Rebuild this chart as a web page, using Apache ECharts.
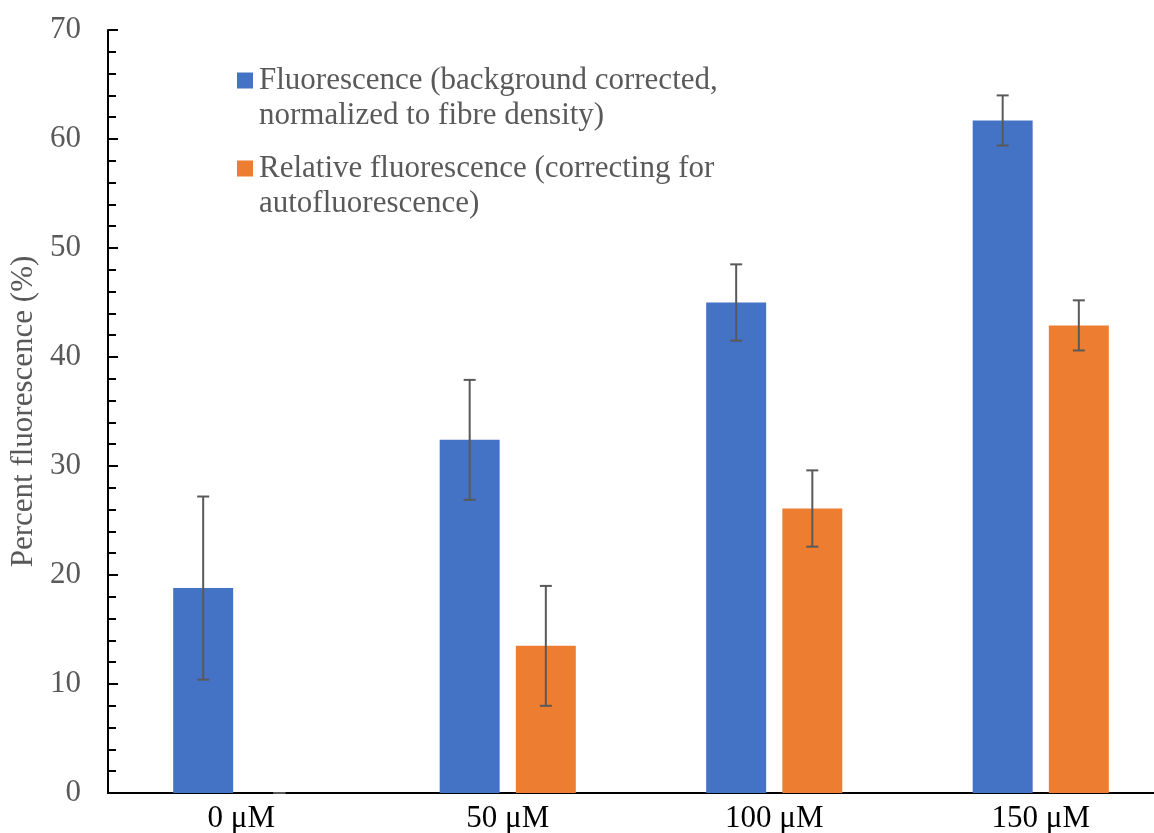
<!DOCTYPE html>
<html><head><meta charset="utf-8">
<script src="https://cdn.jsdelivr.net/npm/echarts@6/dist/echarts.min.js"></script>
<style>html,body{margin:0;padding:0;background:#fff}#c{width:1154px;height:833px}</style>
</head><body><div id="c"></div>
<script>
const categories = ['0 μM', '50 μM', '100 μM', '150 μM'];
const seriesNames = ['Fluorescence', 'Relative fluorescence'];
const legendLines = [
  ['Fluorescence (background corrected,', 'normalized to fibre density)'],
  ['Relative fluorescence (correcting for', 'autofluorescence)']
];
const fluorescence = [18.8, 32.4, 45.0, 61.7];
const fluorescenceErr = [8.4, 5.5, 3.5, 2.3];
const relative = [0, 13.5, 26.1, 42.9];
const relativeErr = [0, 5.5, 3.5, 2.3];
const yTicks = [0, 10, 20, 30, 40, 50, 60, 70];
const colors = ['#4472C4', '#ED7D31'];

const FONT = 'Liberation Serif';
const BAR_W = 0.225, BAR_GAP = 0.27;

function errSeries(vals, errs, sign) {
  return {
    type: 'custom', z: 5, silent: true,
    data: vals.map((v, i) => [i, v, errs[i]]),
    renderItem: function (params, api) {
      const i = api.value(0), v = api.value(1), e = api.value(2);
      const band = api.size([1, 0])[0];
      const off = sign * band * (BAR_W / 2 + BAR_W * BAR_GAP / 2);
      const c = api.coord([i, v]);
      const hi = api.coord([i, v + e]);
      const lo = api.coord([i, v - e]);
      const x = c[0] + off, cap = 6;
      const st = { stroke: '#595959', lineWidth: 2 };
      return { type: 'group', children: [
        { type: 'line', shape: { x1: x, y1: hi[1], x2: x, y2: lo[1] }, style: st },
        { type: 'line', shape: { x1: x - cap, y1: hi[1], x2: x + cap, y2: hi[1] }, style: st },
        { type: 'line', shape: { x1: x - cap, y1: lo[1], x2: x + cap, y2: lo[1] }, style: st }
      ]};
    }
  };
}

const chart = echarts.init(document.getElementById('c'), null, { renderer: 'canvas' });
chart.setOption({
  animation: false,
  textStyle: { fontFamily: FONT },
  grid: { left: 108, right: -20, top: 30, bottom: 40, containLabel: false, outerBoundsMode: 'none' },
  legend: {
    left: 227, top: 58, orient: 'vertical', icon: 'none',
    itemWidth: 0, itemHeight: 16, itemGap: 18,
    data: seriesNames,
    formatter: function (name) {
      const k = seriesNames.indexOf(name);
      return '{sq' + k + '|}{g|}{t|' + legendLines[k][0] + '}\n{sp|}{t|' + legendLines[k][1] + '}';
    },
    textStyle: {
      fontFamily: FONT, fontSize: 31, color: '#595959', lineHeight: 35,
      rich: {
        sq0: { width: 16, height: 16, backgroundColor: colors[0] },
        sq1: { width: 16, height: 16, backgroundColor: colors[1] },
        g: { width: 6 },
        sp: { width: 22 },
        t: { fontFamily: FONT, fontSize: 31, color: '#595959', lineHeight: 35 }
      }
    }
  },
  xAxis: {
    type: 'category', data: categories,
    axisLine: { lineStyle: { color: '#000', width: 2 } },
    axisTick: { show: false },
    axisLabel: { color: '#000', fontSize: 31, fontFamily: FONT, margin: 10 },
    splitLine: { show: false }
  },
  yAxis: {
    type: 'value', min: yTicks[0], max: yTicks[yTicks.length - 1], interval: 10,
    name: 'Percent fluorescence (%)', nameLocation: 'middle', nameGap: 64, nameRotate: 90,
    nameTextStyle: { fontSize: 31, color: '#595959', fontFamily: FONT },
    axisLine: { show: true, lineStyle: { color: '#000', width: 2 } },
    axisTick: { show: true, inside: true, length: 10, lineStyle: { color: '#000', width: 2 } },
    minorTick: { show: true, splitNumber: 5, length: 8, lineStyle: { color: '#000', width: 2 } },
    axisLabel: { color: '#595959', fontSize: 31, fontFamily: FONT, margin: 27 },
    splitLine: { show: false }
  },
  series: [
    { name: seriesNames[0], type: 'bar', data: fluorescence, barWidth: (BAR_W * 100) + '%', barGap: (BAR_GAP * 100) + '%', itemStyle: { color: colors[0] } },
    { name: seriesNames[1], type: 'bar', data: relative, barWidth: (BAR_W * 100) + '%', barGap: (BAR_GAP * 100) + '%', itemStyle: { color: colors[1] } },
    errSeries(fluorescence, fluorescenceErr, -1),
    errSeries(relative, relativeErr, 1)
  ]
});
</script></body></html>
